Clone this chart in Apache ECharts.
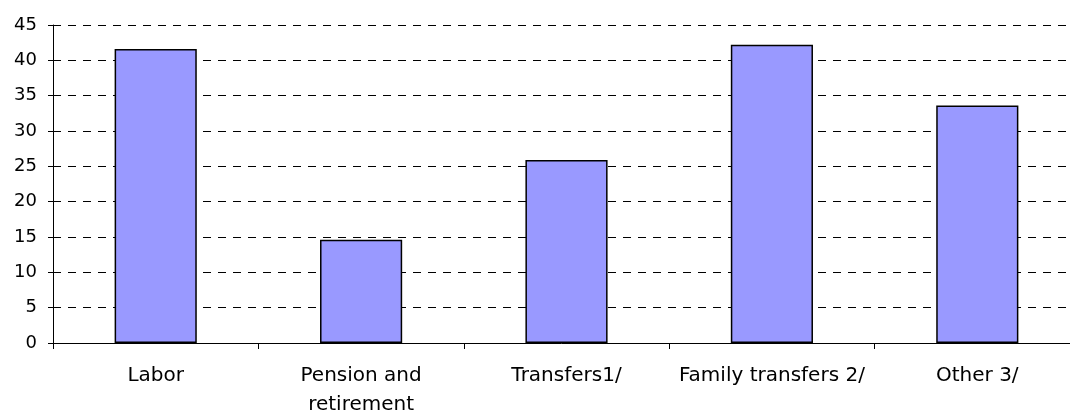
<!DOCTYPE html>
<html>
<head>
<meta charset="utf-8">
<script src="https://cdn.jsdelivr.net/npm/echarts@6/dist/echarts.min.js"></script>
<style>
  html, body { margin: 0; padding: 0; background: #fff; }
  #main { width: 1070px; height: 410px; }
</style>
</head>
<body>
<div id="main"></div>
<script>
// data
const categories = ['Labor', 'Pension and\nretirement', 'Transfers1/', 'Family transfers 2/', 'Other 3/'];
const values = [41.6, 14.6, 25.9, 42.2, 33.6];
const yTicks = { min: 0, max: 45, interval: 5 };

const myChart = echarts.init(document.getElementById('main'), null, { renderer: 'canvas' });

const option = {
  backgroundColor: '#ffffff',
  animation: false,
  textStyle: { fontFamily: 'DejaVu Sans' },
  // plot area runs a little past the right edge, like the original
  grid: {
    left: 53, top: 25, width: 1027, height: 318,
    containLabel: false,
    outerBoundsMode: 'none'
  },
  xAxis: {
    type: 'category',
    data: categories,
    boundaryGap: true,
    axisLine: { lineStyle: { color: '#000', width: 1 } },
    axisTick: { show: true, length: 6, alignWithLabel: false, lineStyle: { color: '#000' } },
    axisLabel: {
      color: '#000',
      fontSize: 20,
      lineHeight: 29,
      margin: 18,
      interval: 0
    },
    splitLine: { show: false }
  },
  yAxis: {
    type: 'value',
    min: yTicks.min,
    max: yTicks.max,
    interval: yTicks.interval,
    axisLine: { show: true, lineStyle: { color: '#000', width: 1 } },
    axisTick: { show: true, length: 5, lineStyle: { color: '#000' } },
    axisLabel: { color: '#000', fontSize: 18, margin: 16 },
    splitLine: {
      show: true,
      lineStyle: { color: '#000', width: 1, type: [8, 7] }
    }
  },
  series: [
    {
      type: 'bar',
      data: values,
      barWidth: '40%',
      itemStyle: {
        color: '#9999ff',
        borderColor: '#000',
        borderWidth: 1.5
      }
    }
  ]
};

myChart.setOption(option);
</script>
</body>
</html>
